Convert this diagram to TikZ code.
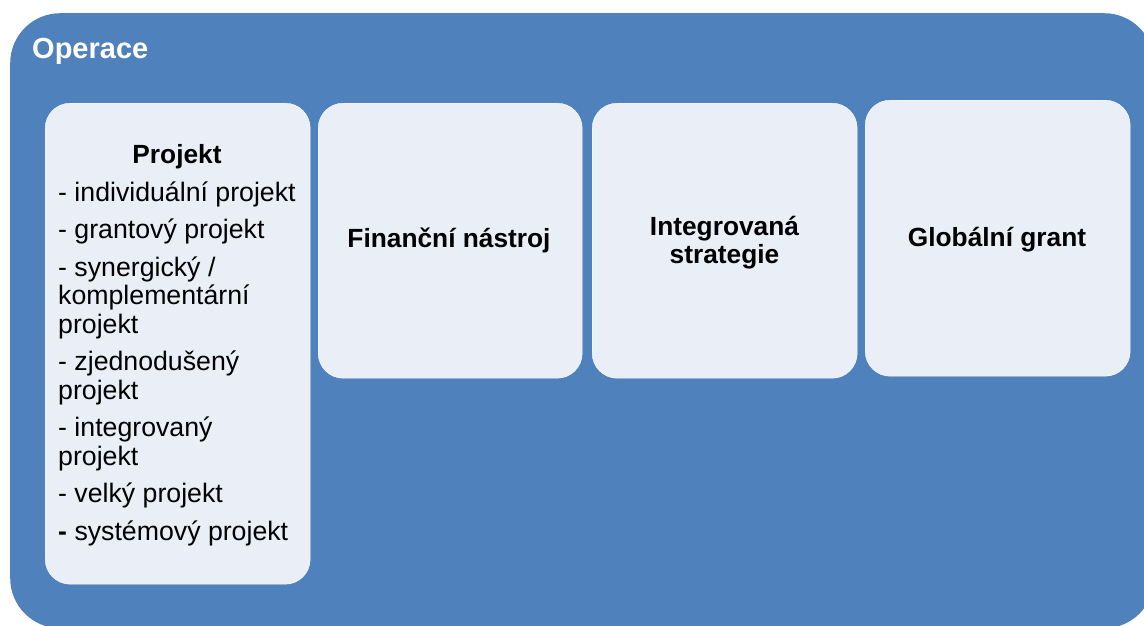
\documentclass[tikz,border=0pt]{standalone}
\usepackage{fontspec}
\setmainfont{Liberation Sans}
\definecolor{operblue}{HTML}{4F81BD}
\definecolor{cellfill}{HTML}{EAEFF7}

\begin{document}
\begin{tikzpicture}[x=1pt,y=-1pt,inner sep=0pt,
        outer/.style={fill=operblue, rounded corners=50pt, anchor=north west},
        cell/.style={fill=cellfill, draw=white, line width=0.4pt, rounded corners=25pt, anchor=north west},
        head/.style={font=\bfseries\fontsize{26.3}{28}\selectfont, align=center},
        item/.style={font=\fontsize{26.7}{28.5}\selectfont, align=left}]
        \useasboundingbox (0,0) rectangle (1144,625);

        \begin{scope}
            \clip (0,0) rectangle (1144,625);
            \node[outer, minimum width=1144pt, minimum height=615pt] (operace) at (10,13) {};
        \end{scope}
        \node[anchor=base west, text=white, font=\bfseries\fontsize{29}{30}\selectfont] (operacetitle) at (32,58) {Operace};

        \node[cell, minimum width=265pt, minimum height=481pt] (projekt) at (45,103) {};
        \node[cell, minimum width=264pt, minimum height=275pt] (financni) at (318,103) {};
        \node[cell, minimum width=265pt, minimum height=275pt] (strategie) at (592,103) {};
        \node[cell, minimum width=265pt, minimum height=276pt] (grant) at (865,100) {};

        % base of a multi-line node = its last line
        \node[head, anchor=base] (projekttitle) at (177,163) {Projekt};
        \node[item, anchor=base west] (projektlist) at (58,540) {%
            - individuální projekt\\[9pt]
            - grantový projekt\\[9pt]
            - synergický /\\komplementární\\projekt\\[9pt]
            - zjednodušený\\projekt\\[9pt]
            - integrovaný\\projekt\\[9pt]
            - velký projekt\\[9pt]
            \textbf{-} systémový projekt};

        \node[head, anchor=base] (financnititle) at (449,247.5) {Finanční nástroj};
        \node[head, anchor=base] (strategietitle) at (724.5,263) {Integrovaná\\strategie};
        \node[head, anchor=base] (granttitle) at (997,246.5) {Globální grant};

\end{tikzpicture}
\end{document}
